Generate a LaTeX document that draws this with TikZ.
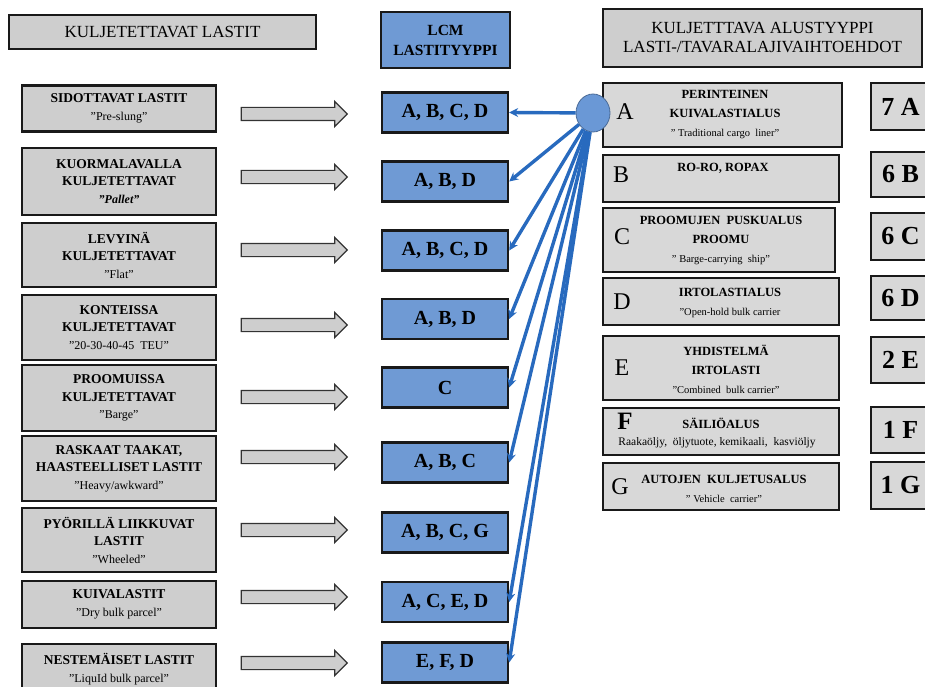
\documentclass[tikz,border=0pt]{standalone}
\usepackage{fontspec}
\setmainfont{Liberation Serif}
\usetikzlibrary{arrows.meta, positioning, shapes.geometric, shapes.arrows}

\definecolor{boxgray}{RGB}{206,206,206}
\definecolor{shipgray}{RGB}{216,216,216}
\definecolor{lcmblue}{RGB}{111,154,212}
\definecolor{hubblue}{RGB}{106,152,214}
\definecolor{linkblue}{RGB}{40,106,190}

\newcommand{\tagline}[1]{{\normalfont\fontsize{12}{17.5}\selectfont #1}}
\newcommand{\subline}[1]{{\normalfont\fontsize{10.5}{19}\selectfont #1}}

\begin{document}
\begin{tikzpicture}[x=1pt, y=-1pt,
    head/.style={draw=black!90, line width=2.6pt, fill=boxgray, inner sep=0pt,
                 align=center, font=\fontsize{17}{19}\selectfont},
    cargo/.style={draw=black!90, line width=2.4pt, fill=boxgray, minimum width=194pt,
                  inner sep=0pt, align=center, font=\fontsize{13.5}{17.5}\selectfont\bfseries},
    lcm/.style={draw=black!90, line width=2.4pt, fill=lcmblue, minimum width=126pt,
                minimum height=40pt, inner sep=0pt, font=\fontsize{20}{20}\selectfont\bfseries},
    ship/.style={draw=black!90, line width=2.6pt, fill=shipgray, inner sep=0pt},
    count/.style={draw=black!90, line width=2.6pt, fill=shipgray, minimum width=59pt,
                  inner sep=0pt, font=\fontsize{26}{26}\selectfont\bfseries},
    key/.style={inner sep=0pt, font=\fontsize{24}{24}\selectfont},
    title/.style={align=center, inner sep=0pt, font=\fontsize{12.5}{19}\selectfont\bfseries},
    flow/.style={single arrow, draw=black!80, line width=1.2pt, fill=boxgray,
                 minimum height=106pt, inner xsep=0pt, inner ysep=6pt,
                 single arrow head extend=6pt},
    link/.style={-{Stealth[length=9pt, width=9pt]}, line width=3.4pt, draw=linkblue},
]
    \useasboundingbox (0,0) rectangle (925,687);

    % column headers
    \node[head, minimum width=307pt, minimum height=34pt] (cargohead) at (162.5,32) {KULJETETTAVAT LASTIT};
    \node[head, fill=lcmblue, font=\fontsize{15.5}{20}\selectfont\bfseries,
          minimum width=129pt, minimum height=56pt] (lcmhead) at (445.5,40) {LCM\\LASTITYYPPI};
    \node[head, minimum width=319pt, minimum height=58pt] (shiphead) at (762.5,38)
        {KULJETTTAVA ALUSTYYPPI\\LASTI-/TAVARALAJIVAIHTOEHDOT};

    % cargo groups
    \node[cargo, minimum height=46pt] (c1) at (119,108.5) {SIDOTTAVAT LASTIT\\\tagline{”Pre-slung”}};
    \node[cargo, minimum height=67pt] (c2) at (119,181.5) {KUORMALAVALLA\\KULJETETTAVAT\\\tagline{\bfseries\itshape ”Pallet”}};
    \node[cargo, minimum height=64pt] (c3) at (119,255) {LEVYINÄ\\KULJETETTAVAT\\\tagline{”Flat”}};
    \node[cargo, minimum height=65pt] (c4) at (119,327.5) {KONTEISSA\\KULJETETTAVAT\\\tagline{”20-30-40-45~~TEU”}};
    \node[cargo, minimum height=66pt] (c5) at (119,398) {PROOMUISSA\\KULJETETTAVAT\\\tagline{”Barge”}};
    \node[cargo, minimum height=65pt] (c6) at (119,468.5) {RASKAAT TAAKAT,\\HAASTEELLISET LASTIT\\\tagline{”Heavy/awkward”}};
    \node[cargo, minimum height=64pt] (c7) at (119,540) {PYÖRILLÄ LIIKKUVAT\\LASTIT\\\tagline{”Wheeled”}};
    \node[cargo, minimum height=47pt] (c8) at (119,604.5) {KUIVALASTIT\\\tagline{”Dry bulk parcel”}};
    \node[cargo, minimum height=50pt] (c9) at (119,669) {NESTEMÄISET LASTIT\\\tagline{”LiquId bulk parcel”}};

    \node[flow] (f1) at (291,114) {};
    \node[flow] (f2) at (291,177) {};
    \node[flow] (f3) at (291,250) {};
    \node[flow] (f4) at (291,325) {};
    \node[flow] (f5) at (291,397) {};
    \node[flow] (f6) at (291,457) {};
    \node[flow] (f7) at (291,530) {};
    \node[flow] (f8) at (291,597) {};
    \node[flow] (f9) at (291,663) {};

    % LCM cargo types
    \node[lcm] (l1) at (445,112.5) {A, B, C, D};
    \node[lcm] (l2) at (445,181.5) {A, B, D};
    \node[lcm] (l3) at (445,250.5) {A, B, C, D};
    \node[lcm] (l4) at (445,319) {A, B, D};
    \node[lcm] (l5) at (445,387.5) {C};
    \node[lcm] (l6) at (445,462.5) {A, B, C};
    \node[lcm] (l7) at (445,532.5) {A, B, C, G};
    \node[lcm] (l8) at (445,602) {A, C, E, D};
    \node[lcm] (l9) at (445,662.5) {E, F, D};

    % ship types
    \node[ship, minimum width=239pt, minimum height=64pt] (sA) at (722.5,115) {};
    \node[ship, minimum width=236pt, minimum height=47pt] (sB) at (721,178.5) {};
    \node[ship, minimum width=232pt, minimum height=64pt] (sC) at (719,240) {};
    \node[ship, minimum width=236pt, minimum height=47pt] (sD) at (721,301.5) {};
    \node[ship, minimum width=236pt, minimum height=64pt] (sE) at (721,368) {};
    \node[ship, minimum width=236pt, minimum height=47pt] (sF) at (721,431.5) {};
    \node[ship, minimum width=236pt, minimum height=47pt] (sG) at (721,486.5) {};

    \node[key] (kA) at (625,112) {A};
    \node[key] (kB) at (621,175) {B};
    \node[key] (kC) at (622,237) {C};
    \node[key] (kD) at (622,302) {D};
    \node[key] (kE) at (622,368) {E};
    \node[key, font=\fontsize{25}{25}\selectfont\bfseries] (kF) at (625,421) {F};
    \node[key] (kG) at (620,487) {G};

    \node[title] (tA) at (725,115) {PERINTEINEN\\KUIVALASTIALUS\\\subline{” Traditional cargo~~liner”}};
    \node[title] (tB) at (723,168) {RO-RO, ROPAX};
    \node[title] (tC) at (721,240) {PROOMUJEN~~PUSKUALUS\\PROOMU\\\subline{” Barge-carrying~~ship”}};
    \node[title] (tD) at (730,303) {IRTOLASTIALUS\\\subline{”Open-hold bulk carrier}};
    \node[title] (tE) at (726,369) {YHDISTELMÄ\\IRTOLASTI\\\subline{”Combined~~bulk carrier”}};
    \node[title] (tF) at (721,423) {SÄILIÖALUS};
    \node[inner sep=0pt, font=\fontsize{11.5}{12}\selectfont] (tFx) at (717,443) {Raakaöljy,~~öljytuote, kemikaali,~~kasviöljy};
    \node[title] (tG) at (724,489) {AUTOJEN~~KULJETUSALUS\\\subline{” Vehicle~~carrier”}};

    % fleet counts
    \node[count, minimum height=47pt] (nA) at (900.5,106.5) {7 A};
    \node[count, minimum height=45pt] (nB) at (900.5,174.5) {6 B};
    \node[count, minimum height=47pt] (nC) at (900.5,236.5) {6 C};
    \node[count, minimum height=44pt] (nD) at (900.5,298) {6 D};
    \node[count, minimum height=46pt] (nE) at (900.5,360) {2 E};
    \node[count, minimum height=46pt] (nF) at (900.5,430) {1 F};
    \node[count, minimum height=47pt] (nG) at (900.5,485.5) {1 G};

    % links from ship type A
    \node[ellipse, draw=hubblue!70!black, line width=0.8pt, fill=hubblue,
          minimum width=34pt, minimum height=38pt, inner sep=0pt] (hub) at (593,113) {};
    \draw[link] (hub) -- (l1.east);
    \draw[link] (hub) -- (l2.east);
    \draw[link] (hub) -- (l3.east);
    \draw[link] (hub) -- (l4.east);
    \draw[link] (hub) -- (l5.east);
    \draw[link] (hub) -- (l6.east);
    \draw[link] (hub) -- (l8.east);
    \draw[link] (hub) -- (l9.east);
\end{tikzpicture}
\end{document}
